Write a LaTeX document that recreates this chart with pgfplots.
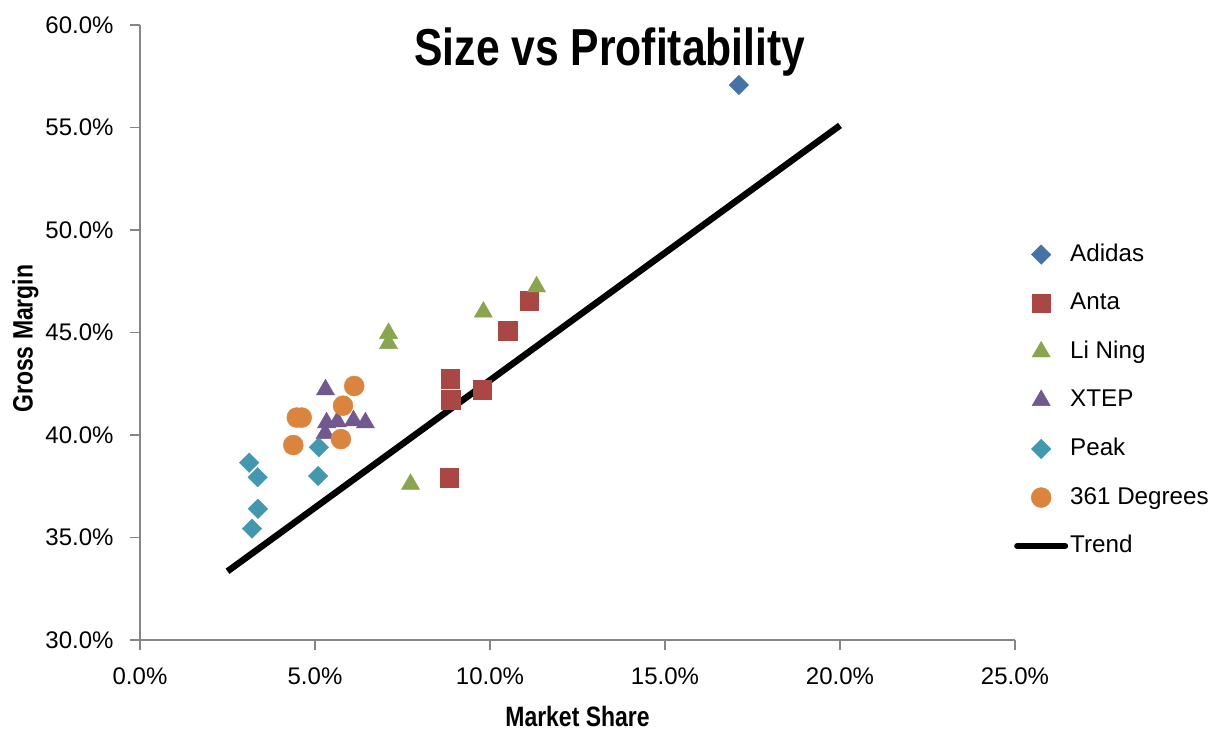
\documentclass[border=0pt]{standalone}
\usepackage{fontspec}
\setmainfont{Liberation Sans}
\usepackage{pgfplots}
\pgfplotsset{compat=1.18}
\definecolor{cAdidas}{HTML}{4572A7}
\definecolor{cAnta}{HTML}{AA4643}
\definecolor{cLiNing}{HTML}{89A54E}
\definecolor{cXTEP}{HTML}{71588F}
\definecolor{cPeak}{HTML}{4198AF}
\definecolor{cDeg}{HTML}{DB843D}
\definecolor{axisgray}{HTML}{868686}
\pgfplotsset{
  markleg/.style={legend image code/.code={\draw[mark repeat=2,mark phase=2,##1] plot coordinates {(0pt,0pt)(27pt,0pt)(54pt,0pt)};}},
  trendleg/.style={legend image code/.code={\draw[black, line width=6pt, line cap=round] (3pt,0pt) -- (51pt,0pt);}},
}
\begin{document}
\begin{tikzpicture}
\begin{axis}[
  at={(140pt,91pt)}, anchor=south west,
  scale only axis, width=875pt, height=615pt,
  xmin=0, xmax=25, ymin=30, ymax=60,
  xtick={0,5,...,25}, ytick={30,35,...,60},
  axis x line*=bottom, axis y line*=left,
  axis line style={draw=axisgray, line width=1.5pt, -},
  tick align=outside, major tick length=10pt,
  tick style={draw=axisgray, line width=1.5pt},
  /pgf/number format/assume math mode=true,
  xticklabel={\pgfmathprintnumber[fixed,fixed zerofill,precision=1]{\tick}\%},
  yticklabel={\pgfmathprintnumber[fixed,fixed zerofill,precision=1]{\tick}\%},
  tick label style={font=\fontsize{24}{28}\selectfont},
  xticklabel style={yshift=-14pt},
  yticklabel style={xshift=-13pt},
  xlabel={\scalebox{0.82}[1]{\bfseries Market Share}},
  ylabel={\scalebox{0.82}[1]{\bfseries Gross Margin}},
  label style={font=\fontsize{28}{32}\selectfont},
  xlabel style={at={(axis description cs:0.5,-0.124)}, anchor=center},
  ylabel style={at={(axis description cs:-0.131,0.49)}, anchor=center, rotate=0},
  title={\scalebox{0.82}[1]{\bfseries Size vs Profitability}},
  title style={font=\fontsize{52}{56}\selectfont, at={(axis description cs:0.537,0.946)}, anchor=center},
  legend style={at={(axis description cs:0.9954,0.649)}, anchor=north west, draw=none, fill=none,
    font=\fontsize{24.2}{28}\selectfont,
    nodes={inner sep=0pt, text height=18pt, text depth=5pt},
    row sep=25.6pt, column sep=2pt},
  legend cell align=left,
  markleg,
]
\addplot[black, line width=6.5pt, forget plot] coordinates {(2.5,33.35) (20,55.1)};
\addplot[only marks, mark=square*, mark size=6.9pt, mark options={rotate=45, fill=cAdidas, draw=cAdidas}] coordinates {
(17.11,57.07)};
\addlegendentry{Adidas}
\addplot[only marks, mark=square*, mark size=9.3pt, mark options={fill=cAnta, draw=cAnta}] coordinates {
(8.86,42.75) (8.88,41.71) (9.78,42.20) (10.50,45.09) (11.12,46.55) (8.83,37.92)};
\addlegendentry{Anta}
\addplot[only marks, mark=triangle*, mark size=10.5pt, mark options={fill=cLiNing, draw=cLiNing}] coordinates {
(7.10,44.96) (7.10,44.47) (9.81,46.00) (11.33,47.23) (7.73,37.60)};
\addlegendentry{Li Ning}
\addplot[only marks, mark=triangle*, mark size=10.5pt, mark options={fill=cXTEP, draw=cXTEP}] coordinates {
(5.30,42.21) (5.33,40.60) (5.64,40.65) (6.10,40.70) (6.44,40.60) (5.29,40.08)};
\addlegendentry{XTEP}
\addplot[only marks, mark=square*, mark size=6.9pt, mark options={rotate=45, fill=cPeak, draw=cPeak}] coordinates {
(3.12,38.65) (3.36,37.94) (3.37,36.40) (3.20,35.43) (5.11,39.40) (5.09,38.00)};
\addlegendentry{Peak}
\addplot[only marks, mark=*, mark size=10pt, mark options={fill=cDeg, draw=cDeg}] coordinates {
(6.12,42.39) (5.80,41.43) (4.48,40.85) (4.62,40.85) (4.38,39.51) (5.74,39.80)};
\addlegendentry{361 Degrees}
\addlegendimage{trendleg}
\addlegendentry{Trend}
\end{axis}
\pgfresetboundingbox
\useasboundingbox (0,0) rectangle (1211pt,731pt);
\end{tikzpicture}
\end{document}
